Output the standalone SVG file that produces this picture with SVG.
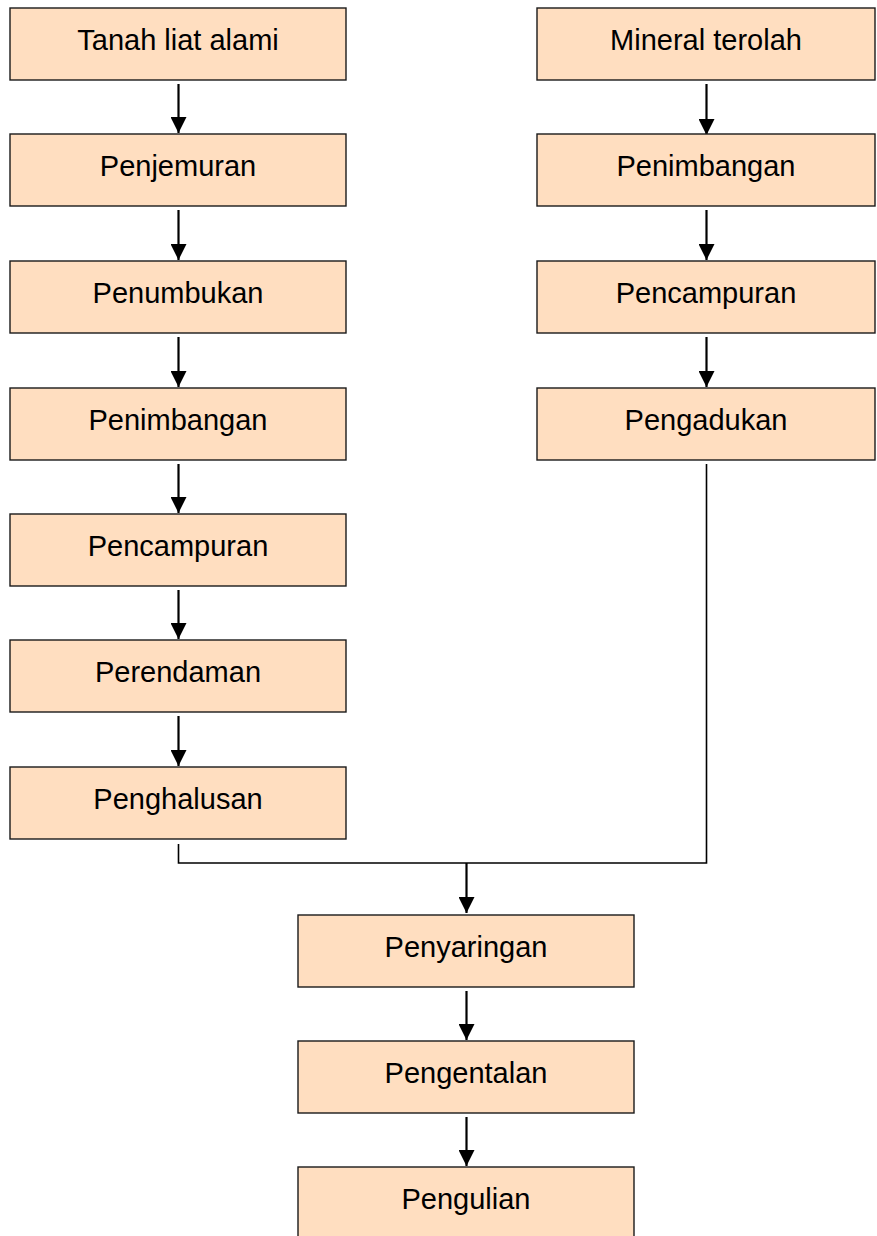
<svg xmlns="http://www.w3.org/2000/svg" width="877" height="1236" viewBox="0 0 877 1236">
<style>
.box{fill:#FFDEC0;stroke:#1a1a1a;stroke-width:1.4}
.lbl{font-family:"Liberation Sans",Arial,sans-serif;font-size:29px;fill:#000;text-anchor:middle}
.arr{stroke:#000;stroke-width:2.2;fill:none}
.ln{stroke:#000;stroke-width:1.6;fill:none}
</style>
<defs>
<marker id="ah" viewBox="0 0 16 16" markerWidth="16" markerHeight="16" refX="16" refY="8" orient="auto" markerUnits="userSpaceOnUse">
<path d="M0,0 L16,8 L0,16 z" fill="#000"/>
</marker>
</defs>
<rect width="877" height="1236" fill="#fff"/>
<g id="connectors">
<line class="arr" x1="178.5" y1="84" x2="178.5" y2="133" marker-end="url(#ah)"/>
<line class="arr" x1="178.5" y1="210" x2="178.5" y2="260" marker-end="url(#ah)"/>
<line class="arr" x1="178.5" y1="337" x2="178.5" y2="387" marker-end="url(#ah)"/>
<line class="arr" x1="178.5" y1="464" x2="178.5" y2="513" marker-end="url(#ah)"/>
<line class="arr" x1="178.5" y1="590" x2="178.5" y2="639" marker-end="url(#ah)"/>
<line class="arr" x1="178.5" y1="716" x2="178.5" y2="766" marker-end="url(#ah)"/>
<line class="arr" x1="706.5" y1="84" x2="706.5" y2="135" marker-end="url(#ah)"/>
<line class="arr" x1="706.5" y1="210" x2="706.5" y2="260" marker-end="url(#ah)"/>
<line class="arr" x1="706.5" y1="337" x2="706.5" y2="387" marker-end="url(#ah)"/>
<polyline class="ln" points="178.5,844 178.5,863 706.5,863 706.5,464"/>
<line class="arr" x1="466.5" y1="863" x2="466.5" y2="913" marker-end="url(#ah)"/>
<line class="arr" x1="466.5" y1="991" x2="466.5" y2="1040" marker-end="url(#ah)"/>
<line class="arr" x1="466.5" y1="1117" x2="466.5" y2="1166" marker-end="url(#ah)"/>
</g>
<g id="n1"><rect class="box" x="10" y="8" width="336" height="72"/><text class="lbl" x="178" y="50">Tanah liat alami</text></g>
<g id="n2"><rect class="box" x="10" y="134" width="336" height="72"/><text class="lbl" x="178" y="176">Penjemuran</text></g>
<g id="n3"><rect class="box" x="10" y="261" width="336" height="72"/><text class="lbl" x="178" y="303">Penumbukan</text></g>
<g id="n4"><rect class="box" x="10" y="388" width="336" height="72"/><text class="lbl" x="178" y="430">Penimbangan</text></g>
<g id="n5"><rect class="box" x="10" y="514" width="336" height="72"/><text class="lbl" x="178" y="556">Pencampuran</text></g>
<g id="n6"><rect class="box" x="10" y="640" width="336" height="72"/><text class="lbl" x="178" y="682">Perendaman</text></g>
<g id="n7"><rect class="box" x="10" y="767" width="336" height="72"/><text class="lbl" x="178" y="809">Penghalusan</text></g>
<g id="r1"><rect class="box" x="537" y="8" width="338" height="72"/><text class="lbl" x="706" y="50">Mineral terolah</text></g>
<g id="r2"><rect class="box" x="537" y="134" width="338" height="72"/><text class="lbl" x="706" y="176">Penimbangan</text></g>
<g id="r3"><rect class="box" x="537" y="261" width="338" height="72"/><text class="lbl" x="706" y="303">Pencampuran</text></g>
<g id="r4"><rect class="box" x="537" y="388" width="338" height="72"/><text class="lbl" x="706" y="430">Pengadukan</text></g>
<g id="b1"><rect class="box" x="298" y="915" width="336" height="72"/><text class="lbl" x="466" y="957">Penyaringan</text></g>
<g id="b2"><rect class="box" x="298" y="1041" width="336" height="72"/><text class="lbl" x="466" y="1083">Pengentalan</text></g>
<g id="b3"><rect class="box" x="298" y="1167" width="336" height="72"/><text class="lbl" x="466" y="1209">Pengulian</text></g>
</svg>
